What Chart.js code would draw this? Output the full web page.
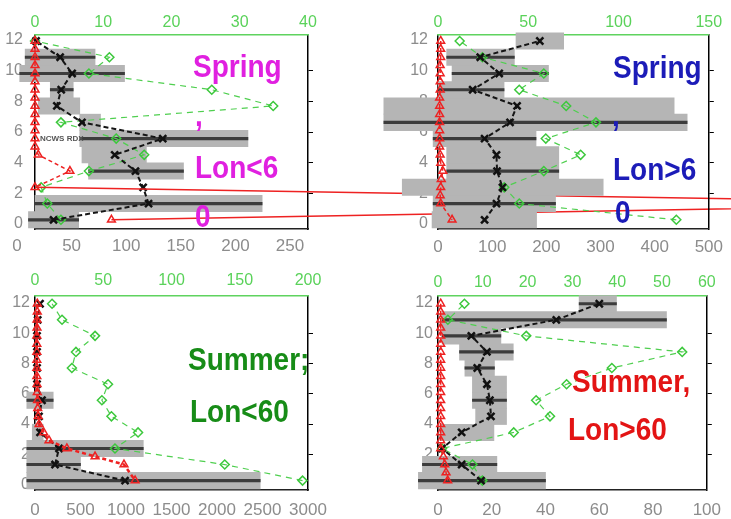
<!DOCTYPE html>
<html>
<head>
<meta charset="utf-8">
<script src="https://cdn.jsdelivr.net/npm/chart.js@4.4.1/dist/chart.umd.min.js"></script>
<style>
  html, body { margin: 0; padding: 0; background: #fff; }
  #wrap { position: relative; width: 731px; height: 519px; overflow: hidden; }
  canvas { position: absolute; }
</style>
</head>
<body>
<div id="wrap">
  <canvas id="springWest" width="731" height="260" style="left:0;top:0;z-index:1"></canvas>
  <canvas id="springEast" width="366" height="260" style="left:365px;top:0;z-index:2"></canvas>
  <canvas id="summerWest" width="365" height="264" style="left:0;top:255px;z-index:3"></canvas>
  <canvas id="summerEast" width="366" height="264" style="left:365px;top:255px;z-index:4"></canvas>
</div>
<script>
// Alturas de cada intervalo (eje vertical) y alturas de la serie roja
const levels = [0.27, 1.33, 2.39, 3.45, 4.51, 5.57, 6.63, 7.70, 8.76, 9.82, 10.88, 11.94];
const halfLevels = [11.94, 11.41, 10.88, 10.35, 9.82, 9.29, 8.76, 8.23, 7.70, 7.16, 6.63, 6.10,
                    5.57, 5.04, 4.51, 3.98, 3.45, 2.92, 2.39, 1.86, 1.33, 0.80, 0.27];
const heightTicks = [0, 2, 4, 6, 8, 10, 12];

// Spring, Lon<60
const springWestBottomTicks = [0, 50, 100, 150, 200, 250];
const springWestTopTicks = [0, 10, 20, 30, 40];
const springWestMean = [17, 104, 99, 92, 73, 117, 43, 20, 24, 34, 23, 1];
const springWestLow = [-6, 0, null, 49, 43, 41, 41, 3, 14, -14, -9, null];
const springWestHigh = [40, 208, null, 136, 102, 195, 60, 41, 35, 82, 55, null];
const springWestSpread = [1, 1, 0, 1, 0, 1, 0, 0, 1, 1, 1, 0];
const springWestGreen = [3.8, 1.8, 0.9, 7.9, 16, 11.9, 3.8, 34.9, 25.9, 7.9, 10.9, 0];
const springWestRed = [0, 0, 0, 0, 0, 0, 0, 0, 0, 0, 0, 0, 0, 0, 3, null, 32, null, 0, null, 903, null, 70];

// Spring, Lon>60
const springEastBottomTicks = [0, 100, 200, 300, 400, 500];
const springEastTopTicks = [0, 50, 100, 150];
const springEastMean = [86, 108, 119, 109, 108, 86, 133, 146, 64, 113, 78, 188];
const springEastLow = [-11, -9, -66, 16, 16, -9, -100, -100, 0, 26, 16, 144];
const springEastHigh = [182, 217, 305, 223, 223, 181, 460, 436, 122, 204, 141, 232];
const springEastSpread = [0, 1, 0, 1, 0, 1, 1, 0, 1, 1, 1, 0];
const springEastGreen = [132, 45, 36.7, 58.6, 79, 59.7, 87.5, 71, 45, 58.6, 24.6, 12];
const springEastRed = [5, 5, 5, 4, 4, 4, 4, 3, 3, 3, 3, 3, 3, 3, 4, 5, 9, 6, 5, 4, 5, null, 26];

// Summer, Lon<60
const summerWestBottomTicks = [0, 500, 1000, 1500, 2000, 2500, 3000];
const summerWestTopTicks = [0, 50, 100, 150, 200];
const summerWestMean = [990, 220, 264, 55, 44, 77, 22, 22, 22, 22, 30, 55];
const summerWestLow = [-90, -90, -90, -30, null, -90, null, null, null, null, null, null];
const summerWestHigh = [2475, 500, 1190, 90, null, 200, null, null, null, null, null, null];
const summerWestSpread = [1, 1, 1, 0, 0, 1, 0, 0, 0, 0, 0, 0];
const summerWestGreen = [196, 139, 58.6, 75.5, 56, 49, 53.5, 27, 30, 44, 19.8, 12.5];
const summerWestRed = [25, 25, 22, 22, 20, 20, 20, 20, 20, 20, 22, 25, 28, 30, 35, 45, 95, 154, 350, 660, 978, null, 1100];

// Summer, Lon>60
const summerEastBottomTicks = [0, 20, 40, 60, 80, 100];
const summerEastTopTicks = [0, 10, 20, 30, 40, 50, 60];
const summerEastMean = [16, 8.8, 1.5, 8.8, 19.7, 19.3, 18.2, 14.6, 18.2, 12.4, 44, 60];
const summerEastLow = [-7.3, -5.8, null, 0.7, 14, 12.8, 12.8, 10, 8, 1.5, 1.5, 52.5];
const summerEastHigh = [40, 21.9, null, 20.8, 25.5, 25.5, 25.5, 21, 28, 23.4, 85, 66.4];
const summerEastSpread = [1, 1, 0, 0, 0, 1, 0, 1, 1, 1, 1, 1];
const summerEastGreen = [9.9, 7.7, 0.9, 16.9, 25, 21.9, 28.7, 38.8, 54.5, 19.7, 2.2, 5.9];
const summerEastRed = [1, 1, 1, 1, 1, 1, 1, 1, 1, 1, 1, 1, 1, 1, 1, 1, 1, 1, 1, 2, 2.5, 3, 3.6];

Chart.defaults.font.family = '"Liberation Sans", Arial, sans-serif';

// Textos grandes de cada panel
const panelLabels = {
    id: 'panelLabels',
    afterDraw(chart, args, opts) {
        const c = chart.ctx;
        (opts.items || []).forEach(t => {
            c.save();
            c.font = `bold ${t.size || 28}px "Liberation Sans", Arial, sans-serif`;
            c.fillStyle = t.color;
            c.translate(t.x, t.y);
            c.scale(1, t.stretch || 1.1);
            c.fillText(t.text, 0, 0);
            c.restore();
        });
    }
};

const tickGray = '#8c8c8c';
const tickGreen = '#5ad25a';
const plainNumber = v => String(v);

function makePanel(id, p) {
    const ctx = document.getElementById(id).getContext('2d');
    const bars = [];
    const spread = [];
    levels.forEach((y, i) => {
        if (p.low[i] === null) return;
        bars.push({ y, x: [p.low[i], p.high[i]] });
        if (p.spread[i]) spread.push({ y, x: [p.low[i], p.high[i]] });
    });
    const meanPts = levels.map((y, i) => ({ x: p.mean[i], y }));
    const greenPts = levels.map((y, i) => ({ x: p.green[i], y }));
    const redPts = halfLevels.map((y, i) => ({ x: p.red[i], y })).filter(d => d.x !== null);
    const fixTicks = list => s => { s.ticks = list.map(v => ({ value: v })); };
    // tramos que salen del grafico se dibujan continuos
    const redDash = c => Math.abs(c.p1.x - c.p0.x) > 300 ? [] : [4, 3];

    return new Chart(ctx, {
        type: 'bar',
        data: {
            datasets: [
                {
                    type: 'line', data: redPts, indexAxis: 'y', xAxisID: 'x', yAxisID: 'y',
                    borderColor: '#ee2222', borderWidth: p.redWidth || 1.5, borderDash: [4, 3],
                    segment: { borderDash: redDash },
                    pointStyle: 'triangle', pointRadius: 4.5, pointBorderWidth: 1.5,
                    pointBorderColor: '#ee2222', pointBackgroundColor: 'rgba(255,255,255,0)',
                    clip: false, tension: 0
                },
                {
                    type: 'line', data: meanPts, indexAxis: 'y', xAxisID: 'x', yAxisID: 'y',
                    borderColor: '#151515', borderWidth: 2, borderDash: [5, 3],
                    pointStyle: 'crossRot', pointRadius: 5, pointBorderWidth: 2.5,
                    pointBorderColor: '#111', clip: false
                },
                {
                    type: 'line', data: greenPts, indexAxis: 'y', xAxisID: 'x2', yAxisID: 'y',
                    borderColor: '#4fcf4f', borderWidth: 1.2, borderDash: [6, 5],
                    pointStyle: 'rectRot', pointRadius: 4.5, pointBorderWidth: 1.5,
                    pointBorderColor: '#3cc83c', pointBackgroundColor: 'rgba(255,255,255,0)',
                    clip: false
                },
                {
                    data: spread, indexAxis: 'y', xAxisID: 'x', yAxisID: 'y',
                    backgroundColor: '#3c3c3c', grouped: false, barThickness: 2.5, clip: false
                },
                {
                    data: bars, indexAxis: 'y', xAxisID: 'x', yAxisID: 'y',
                    backgroundColor: '#b5b5b5', grouped: false, barThickness: 16.4, clip: false
                }
            ]
        },
        options: {
            responsive: false,
            animation: false,
            indexAxis: 'y',
            events: [],
            layout: { autoPadding: false, padding: p.padding },
            plugins: {
                legend: { display: false },
                tooltip: { enabled: false },
                panelLabels: { items: p.labels }
            },
            scales: {
                y: {
                    type: 'linear', axis: 'y', position: 'left', min: p.yMin, max: p.yMax, offset: false,
                    afterBuildTicks: fixTicks(heightTicks),
                    afterFit: s => { s.width = 35; },
                    grid: { display: false, drawTicks: false, offset: false },
                    border: { display: true, color: '#000', width: 1.5 },
                    ticks: { color: tickGray, font: { size: 16 }, padding: p.yPad, callback: plainNumber }
                },
                yR: {
                    type: 'linear', axis: 'y', position: 'right', min: p.yMin, max: p.yMax, offset: false,
                    afterBuildTicks: fixTicks([2, 4, 6, 8, 10]),
                    afterFit: s => { s.width = 6; },
                    grid: { drawOnChartArea: false, drawTicks: true, tickLength: 5, color: '#000', offset: false },
                    border: { display: true, color: '#000', width: 1.5 },
                    ticks: { display: false }
                },
                x: {
                    type: 'linear', axis: 'x', position: 'bottom',
                    min: p.bottomTicks[0], max: p.bottomTicks[p.bottomTicks.length - 1],
                    afterBuildTicks: fixTicks(p.bottomTicks),
                    afterFit: s => { s.height = p.bottomH; },
                    grid: { display: false, drawTicks: false },
                    border: { display: true, color: '#222', width: 1.5, dash: [2, 3] },
                    ticks: {
                        color: tickGray, font: { size: 17 }, padding: p.bottomPad, callback: plainNumber,
                        labelOffset: p.bottomShift || 0, autoSkip: false, maxRotation: 0
                    }
                },
                x2: {
                    type: 'linear', axis: 'x', position: 'top',
                    min: p.topTicks[0], max: p.topTicks[p.topTicks.length - 1],
                    afterBuildTicks: fixTicks(p.topTicks),
                    afterFit: s => { s.height = p.topH; },
                    grid: { display: false, drawTicks: false },
                    border: { display: true, color: '#5fd35f', width: 1.5, dash: [2, 3] },
                    ticks: {
                        color: tickGreen, font: { size: 16 }, padding: p.topPad, callback: plainNumber,
                        autoSkip: false, maxRotation: 0
                    }
                }
            }
        },
        plugins: [panelLabels]
    });
}

document.addEventListener('DOMContentLoaded', function () {
    makePanel('springWest', {
        mean: springWestMean, low: springWestLow, high: springWestHigh, spread: springWestSpread,
        green: springWestGreen, red: springWestRed,
        bottomTicks: springWestBottomTicks, topTicks: springWestTopTicks,
        yMin: -0.33, yMax: 12.33, yPad: 12, bottomH: 31, topH: 35, bottomPad: 7, topPad: 3, bottomShift: -18,
        padding: { left: 0, right: 417, top: 0, bottom: 0 },
        labels: [
            { text: 'Spring', x: 193, y: 77, color: '#e020e0' },
            { text: ',', x: 195, y: 126, color: '#e020e0' },
            { text: 'Lon<6', x: 195, y: 178, color: '#e020e0' },
            { text: '0', x: 195, y: 227, color: '#e020e0' },
            { text: 'NCWS RDX', x: 40, y: 141, color: '#555', size: 8, stretch: 1 }
        ]
    });

    makePanel('springEast', {
        mean: springEastMean, low: springEastLow, high: springEastHigh, spread: springEastSpread,
        green: springEastGreen, red: springEastRed,
        bottomTicks: springEastBottomTicks, topTicks: springEastTopTicks,
        yMin: -0.33, yMax: 12.33, yPad: 10, bottomH: 31, topH: 35, bottomPad: 8, topPad: 3,
        padding: { left: 38, right: 13, top: 0, bottom: 0 },
        labels: [
            { text: 'Spring', x: 248, y: 78, color: '#1c1cb8' },
            { text: ',', x: 247, y: 126, color: '#1c1cb8' },
            { text: 'Lon>6', x: 248, y: 180, color: '#1c1cb8' },
            { text: '0', x: 250, y: 223, color: '#1c1cb8' }
        ]
    });

    makePanel('summerWest', {
        mean: summerWestMean, low: summerWestLow, high: summerWestHigh, spread: summerWestSpread,
        green: summerWestGreen, red: summerWestRed, redWidth: 2.5,
        bottomTicks: summerWestBottomTicks, topTicks: summerWestTopTicks,
        yMin: -0.35, yMax: 12.45, yPad: 5, bottomH: 29, topH: 41, bottomPad: 10, topPad: 6,
        padding: { left: 0, right: 51, top: 0, bottom: 0 },
        labels: [
            { text: 'Summer;', x: 188, y: 115, color: '#178c17' },
            { text: 'Lon<60', x: 190, y: 167, color: '#178c17' }
        ]
    });

    makePanel('summerEast', {
        mean: summerEastMean, low: summerEastLow, high: summerEastHigh, spread: summerEastSpread,
        green: summerEastGreen, red: summerEastRed,
        bottomTicks: summerEastBottomTicks, topTicks: summerEastTopTicks,
        yMin: -0.35, yMax: 12.45, yPad: 5, bottomH: 29, topH: 41, bottomPad: 10, topPad: 4,
        padding: { left: 38, right: 13, top: 0, bottom: 0 },
        labels: [
            { text: 'Summer,', x: 207, y: 137, color: '#e31414' },
            { text: 'Lon>60', x: 203, y: 185, color: '#e31414' }
        ]
    });
});
</script>
</body>
</html>
